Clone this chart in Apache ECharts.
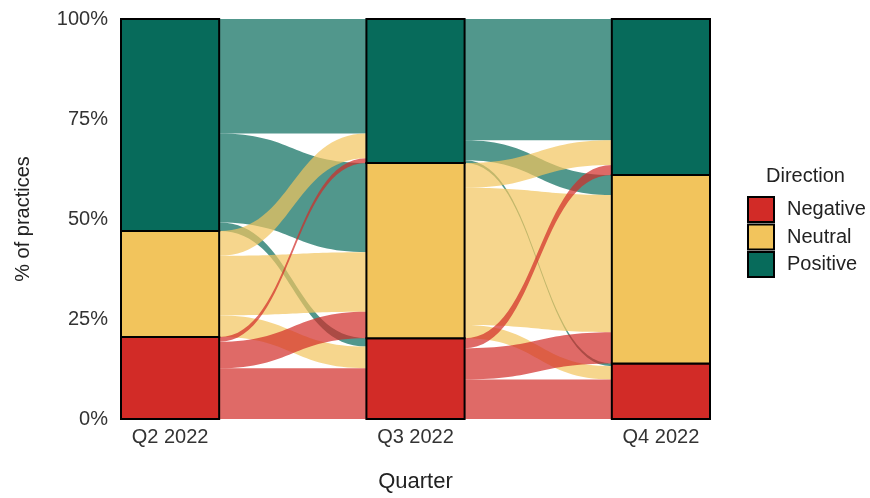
<!DOCTYPE html>
<html>
<head>
<meta charset="utf-8">
<script src="https://cdn.jsdelivr.net/npm/echarts@6/dist/echarts.min.js"></script>
<style>
  html, body { margin: 0; padding: 0; background: #fff; }
  #chart { width: 870px; height: 498px; }
</style>
</head>
<body>
<div id="chart"></div>
<script>
// categories
const quarters = ['Q2 2022', 'Q3 2022', 'Q4 2022']
const directions = ['Negative', 'Neutral', 'Positive']

// share of practices (%) in each direction per quarter
const negativeShare = [20.5, 20.2, 13.9]
const neutralShare = [26.5, 43.8, 47.1]
const positiveShare = [53.0, 36.0, 39.0]

// transitions (%), rows = from (Negative, Neutral, Positive), cols = to (Negative, Neutral, Positive)
const flowQ2toQ3 = [
  [12.7, 6.6, 1.2],
  [5.4, 14.9, 6.2],
  [2.1, 22.3, 28.6]
]
const flowQ3toQ4 = [
  [9.9, 7.8, 2.5],
  [3.3, 34.3, 6.2],
  [0.7, 5.0, 30.3]
]

const colors = { Negative: '#d22b27', Neutral: '#f2c45c', Positive: '#076b5b' }
const halfWidth = 0.2 // stratum half width in axis units

const shares = [negativeShare, neutralShare, positiveShare]
const transitions = [flowQ2toQ3, flowQ3toQ4]

// bottom of each stratum (stacked Negative -> Neutral -> Positive)
const stratumBase = (q, d) => {
  let b = 0
  for (let k = 0; k < d; k++) b += shares[k][q]
  return b
}

// strata data per direction: [x, bottom, top]
const strataData = directions.map((name, d) =>
  quarters.map((q, qi) => {
    const b = stratumBase(qi, d)
    return [qi + 1, b, b + shares[d][qi]]
  })
)

// flow data per source direction: [x0, x1, yb0, yt0, yb1, yt1]
const flowData = directions.map(() => [])
transitions.forEach((m, t) => {
  for (let s = 0; s < 3; s++) {
    for (let d = 0; d < 3; d++) {
      const v = m[s][d]
      // left end: inside the source stratum, bottom-up by destination
      let yb0 = stratumBase(t, s)
      for (let k = 0; k < d; k++) yb0 += m[s][k]
      // right end: inside the destination stratum, bottom-up by source
      let yb1 = stratumBase(t + 1, d)
      for (let k = 0; k < s; k++) yb1 += m[k][d]
      flowData[s].push([t + 1 + halfWidth, t + 2 - halfWidth, yb0, yb0 + v, yb1, yb1 + v])
    }
  }
})

const renderFlow = (color) => (params, api) => {
  const x0 = api.value(0), x1 = api.value(1)
  const p0b = api.coord([x0, api.value(2)])
  const p0t = api.coord([x0, api.value(3)])
  const p1b = api.coord([x1, api.value(4)])
  const p1t = api.coord([x1, api.value(5)])
  const xm = (p0t[0] + p1t[0]) / 2
  const d = `M${p0t[0]},${p0t[1]} C${xm},${p0t[1]} ${xm},${p1t[1]} ${p1t[0]},${p1t[1]} ` +
    `L${p1b[0]},${p1b[1]} C${xm},${p1b[1]} ${xm},${p0b[1]} ${p0b[0]},${p0b[1]} Z`
  return {
    type: 'path',
    shape: { pathData: d },
    style: { fill: color, opacity: 0.7 }
  }
}

const renderStratum = (color) => (params, api) => {
  const x = api.value(0)
  const a = api.coord([x - halfWidth, api.value(2)])
  const b = api.coord([x + halfWidth, api.value(1)])
  return {
    type: 'rect',
    shape: { x: a[0], y: a[1], width: b[0] - a[0], height: b[1] - a[1] },
    style: { fill: color, stroke: '#000', lineWidth: 2 }
  }
}

// flows: green first, red last (red ends up on top)
const flowSeries = [2, 1, 0].map(d => ({
  name: directions[d],
  type: 'custom',
  renderItem: renderFlow(colors[directions[d]]),
  data: flowData[d],
  itemStyle: { color: colors[directions[d]] },
  z: 2
}))

const strataSeries = directions.map((name, d) => ({
  name,
  type: 'custom',
  renderItem: renderStratum(colors[name]),
  data: strataData[d],
  itemStyle: { color: colors[name] },
  z: 3
}))

const chart = echarts.init(document.getElementById('chart'))

chart.setOption({
  animation: false,
  textStyle: { fontFamily: 'Liberation Sans, Arial, sans-serif' },
  title: {
    text: 'Direction',
    left: 761,
    top: 161,
    textStyle: { fontSize: 20, fontWeight: 'normal', color: '#222' }
  },
  legend: {
    orient: 'vertical',
    left: 742,
    top: 191,
    itemWidth: 26,
    itemHeight: 25,
    itemGap: 0.5,
    icon: 'rect',
    selectedMode: false,
    textStyle: { fontSize: 20, color: '#222', padding: [0, 0, 0, 8] },
    data: directions.map(name => ({
      name,
      itemStyle: { color: colors[name], borderColor: '#000', borderWidth: 2, opacity: 1 }
    }))
  },
  grid: {
    left: 121,
    right: 160,
    top: 19,
    bottom: 74
  },
  xAxis: {
    type: 'value',
    min: 1 - halfWidth,
    max: 3 + halfWidth,
    name: 'Quarter',
    nameLocation: 'middle',
    nameGap: 52,
    nameTextStyle: { fontSize: 22, color: '#222' },
    axisLine: { show: false },
    axisTick: { show: false },
    splitLine: { show: false },
    axisLabel: {
      customValues: [1, 2, 3],
      formatter: v => quarters[Math.round(v) - 1] || '',
      fontSize: 20,
      color: '#333',
      margin: 8
    }
  },
  yAxis: {
    type: 'value',
    min: 0,
    max: 100,
    interval: 25,
    name: '% of practices',
    nameLocation: 'middle',
    nameGap: 88,
    nameTextStyle: { fontSize: 20, color: '#222' },
    axisLine: { show: false },
    axisTick: { show: false },
    splitLine: { show: false },
    axisLabel: {
      formatter: '{value}%',
      fontSize: 20,
      color: '#333',
      margin: 13
    }
  },
  series: [...flowSeries, ...strataSeries]
})
</script>
</body>
</html>
